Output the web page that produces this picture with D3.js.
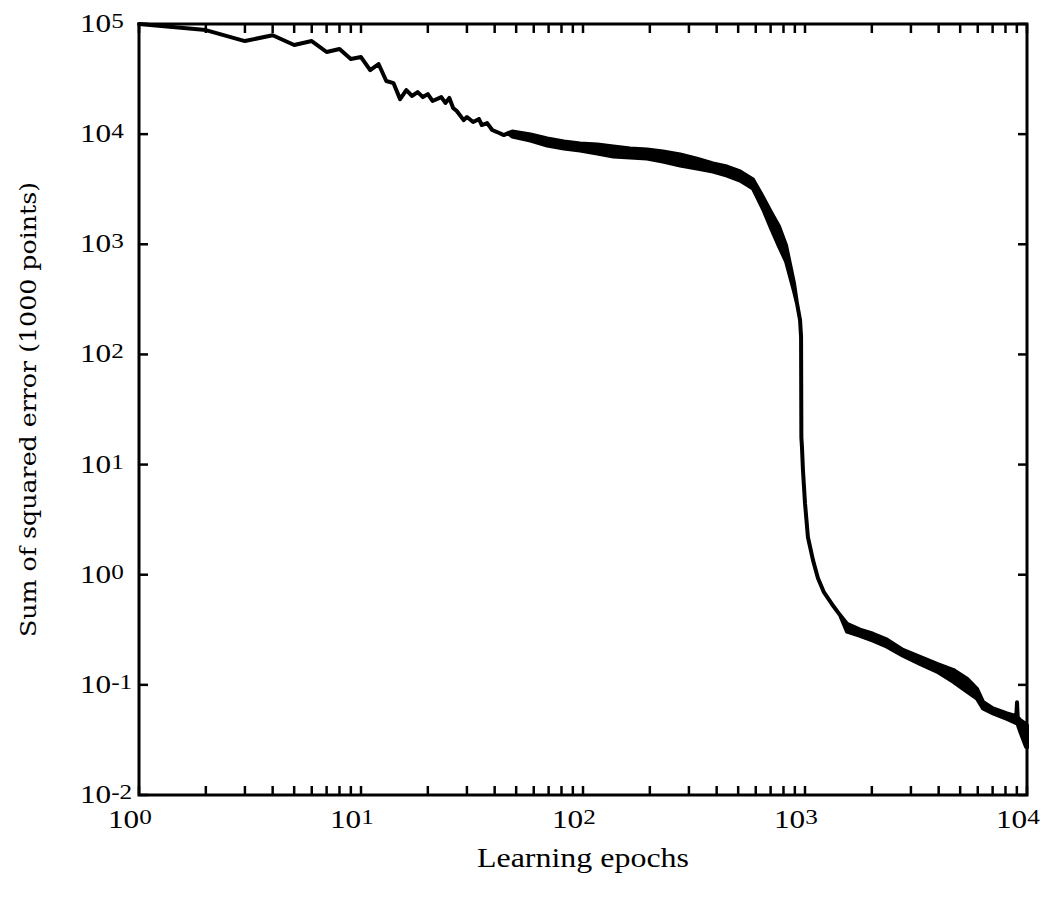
<!DOCTYPE html>
<html>
<head>
<meta charset="utf-8">
<script src="https://cdn.jsdelivr.net/npm/d3@7"></script>
<style>
  html, body { margin: 0; padding: 0; background: #fff; }
  svg { display: block; }
</style>
</head>
<body>
<div id="chart"></div>
<script>
// learning curve: epoch, upper and lower edge of the trace
const epochs = [1, 2, 3, 4, 5, 6, 7, 8, 9, 10, 11, 12, 13, 14, 15, 16, 17, 18, 19, 20,
  21, 23, 24, 25, 26, 27, 29, 30, 32, 34, 35, 37, 39, 41, 44, 46,
  48, 58, 69, 82, 97, 116, 137, 163, 194, 229, 274, 326, 385, 445, 510, 583,
  647, 703, 763, 821, 856, 892, 920, 950, 960, 963, 969, 979, 1000, 1031, 1087, 1144, 1218, 1323, 1438,
  1546, 1769, 2025, 2341, 2763, 3296, 3932, 4642, 5367, 5954, 6336, 7028, 8125, 8950, 9017, 9080, 9301, 9897, 10000];

const errorUpper = [100000, 88000, 70000, 79000, 64500, 70000, 55700, 59300, 48100, 50100, 38200, 43300, 30400, 29100, 20800, 25100, 22200, 24100, 21700, 23100,
  20000, 21700, 19200, 21300, 17300, 16200, 13400, 14300, 12900, 13700, 12100, 12600, 10900, 10450, 9800, 10200,
  10560, 9920, 9120, 8570, 8210, 8040, 7720, 7400, 7250, 6950, 6530, 6000, 5410, 5080, 4580, 3870,
  2680, 1960, 1460, 980, 660, 444, 292, 205, 144, 17.7, 14.4, 8.9, 4.46, 2.19, 1.35, 0.93, 0.69, 0.54, 0.43,
  0.359, 0.317, 0.291, 0.257, 0.208, 0.180, 0.155, 0.137, 0.114, 0.092, 0.070, 0.061, 0.055, 0.052, 0.0695, 0.051, 0.048, 0.044, 0.043];

const errorLower = [100000, 88000, 70000, 79000, 64500, 70000, 55700, 59300, 48100, 50100, 38200, 43300, 30400, 29100, 20800, 25100, 22200, 24100, 21700, 23100,
  20000, 21700, 19200, 21300, 17300, 16200, 13400, 14300, 12900, 13700, 12100, 12600, 10900, 10450, 9800, 10200,
  9510, 8750, 7880, 7400, 7100, 6660, 6260, 6130, 6000, 5640, 5190, 4870, 4580, 4210, 3790, 3210,
  2090, 1400, 960, 700, 514, 376, 292, 205, 144, 17.7, 14.4, 8.9, 4.46, 2.19, 1.35, 0.93, 0.69, 0.54, 0.43,
  0.304, 0.279, 0.252, 0.222, 0.184, 0.155, 0.132, 0.107, 0.087, 0.075, 0.061, 0.055, 0.049, 0.045, 0.045, 0.044, 0.038, 0.0274, 0.027];

const xDecades = [0, 1, 2, 3, 4];
const yDecades = [-2, -1, 0, 1, 2, 3, 4, 5];
const xTitle = "Learning epochs";
const yTitle = "Sum of squared error (1000 points)";

const width = 1042, height = 901;
const plot = { left: 139, right: 1027, top: 24, bottom: 795 };
const tickLen = 9;

const svg = d3.select("#chart")
    .append("svg")
    .attr("width", width)
    .attr("height", height);

const x = d3.scaleLog().domain([1, 1e4]).range([plot.left, plot.right]);
const y = d3.scaleLog().domain([1e-2, 1e5]).range([plot.bottom, plot.top]);

// minor ticks 1..9 per decade on x, decades only on y
const xTicks = [];
xDecades.slice(0, -1).forEach(d => {
    for (let k = 1; k < 10; k++) xTicks.push(k * Math.pow(10, d));
});
xTicks.push(1e4);
const yTicks = yDecades.map(d => Math.pow(10, d));

// inward ticks on all four sides
const ticks = svg.append("g")
    .attr("stroke", "#000")
    .attr("stroke-width", 2.5);

[plot.bottom, plot.top].forEach(edge => {
    const dir = edge === plot.bottom ? -1 : 1;
    ticks.append("g")
        .selectAll("line")
        .data(xTicks)
        .join("line")
        .attr("x1", d => x(d))
        .attr("x2", d => x(d))
        .attr("y1", edge)
        .attr("y2", edge + dir * tickLen);
});

[plot.left, plot.right].forEach(edge => {
    const dir = edge === plot.left ? 1 : -1;
    ticks.append("g")
        .selectAll("line")
        .data(yTicks)
        .join("line")
        .attr("x1", edge)
        .attr("x2", edge + dir * tickLen)
        .attr("y1", d => y(d))
        .attr("y2", d => y(d));
});

// the curve: band between upper and lower edge, outlined so thin parts read as a line
const rows = epochs.map((e, i) => ({ e, hi: errorUpper[i], lo: errorLower[i] }));
const band = d3.area()
    .x(d => x(d.e))
    .y0(d => y(d.lo))
    .y1(d => y(d.hi));

svg.append("path")
    .datum(rows)
    .attr("d", band)
    .attr("fill", "#000")
    .attr("stroke", "#000")
    .attr("stroke-width", 4)
    .attr("stroke-linejoin", "round");

// frame
svg.append("rect")
    .attr("x", plot.left)
    .attr("y", plot.top)
    .attr("width", plot.right - plot.left)
    .attr("height", plot.bottom - plot.top)
    .attr("fill", "none")
    .attr("stroke", "#000")
    .attr("stroke-width", 3);

const font = "'Liberation Serif', 'Times New Roman', serif";

function powerLabel(g, exp) {
    const t = g.append("text")
        .attr("font-family", font)
        .attr("font-size", 26)
        .attr("fill", "#000");
    t.append("tspan").text("10");
    t.append("tspan").attr("dy", -4).attr("font-size", 21).text(exp);
}

xDecades.forEach(d => {
    const g = svg.append("g")
        .attr("transform", `translate(${x(Math.pow(10, d)) - 31},828) scale(1.2,1)`);
    powerLabel(g, d);
});

yDecades.forEach(d => {
    const g = svg.append("g")
        .attr("transform", `translate(80,${y(Math.pow(10, d)) + 8}) scale(1.2,1)`);
    powerLabel(g, d);
});

svg.append("text")
    .attr("x", (plot.left + plot.right) / 2)
    .attr("y", 867)
    .attr("text-anchor", "middle")
    .attr("font-family", font)
    .attr("font-size", 28)
    .attr("textLength", 212)
    .attr("lengthAdjust", "spacingAndGlyphs")
    .text(xTitle);

svg.append("text")
    .attr("transform", `translate(36,${(plot.top + plot.bottom) / 2}) rotate(-90)`)
    .attr("text-anchor", "middle")
    .attr("font-family", "'DejaVu Serif', serif")
    .attr("font-size", 22)
    .attr("textLength", 455)
    .attr("lengthAdjust", "spacingAndGlyphs")
    .text(yTitle);
</script>
</body>
</html>
